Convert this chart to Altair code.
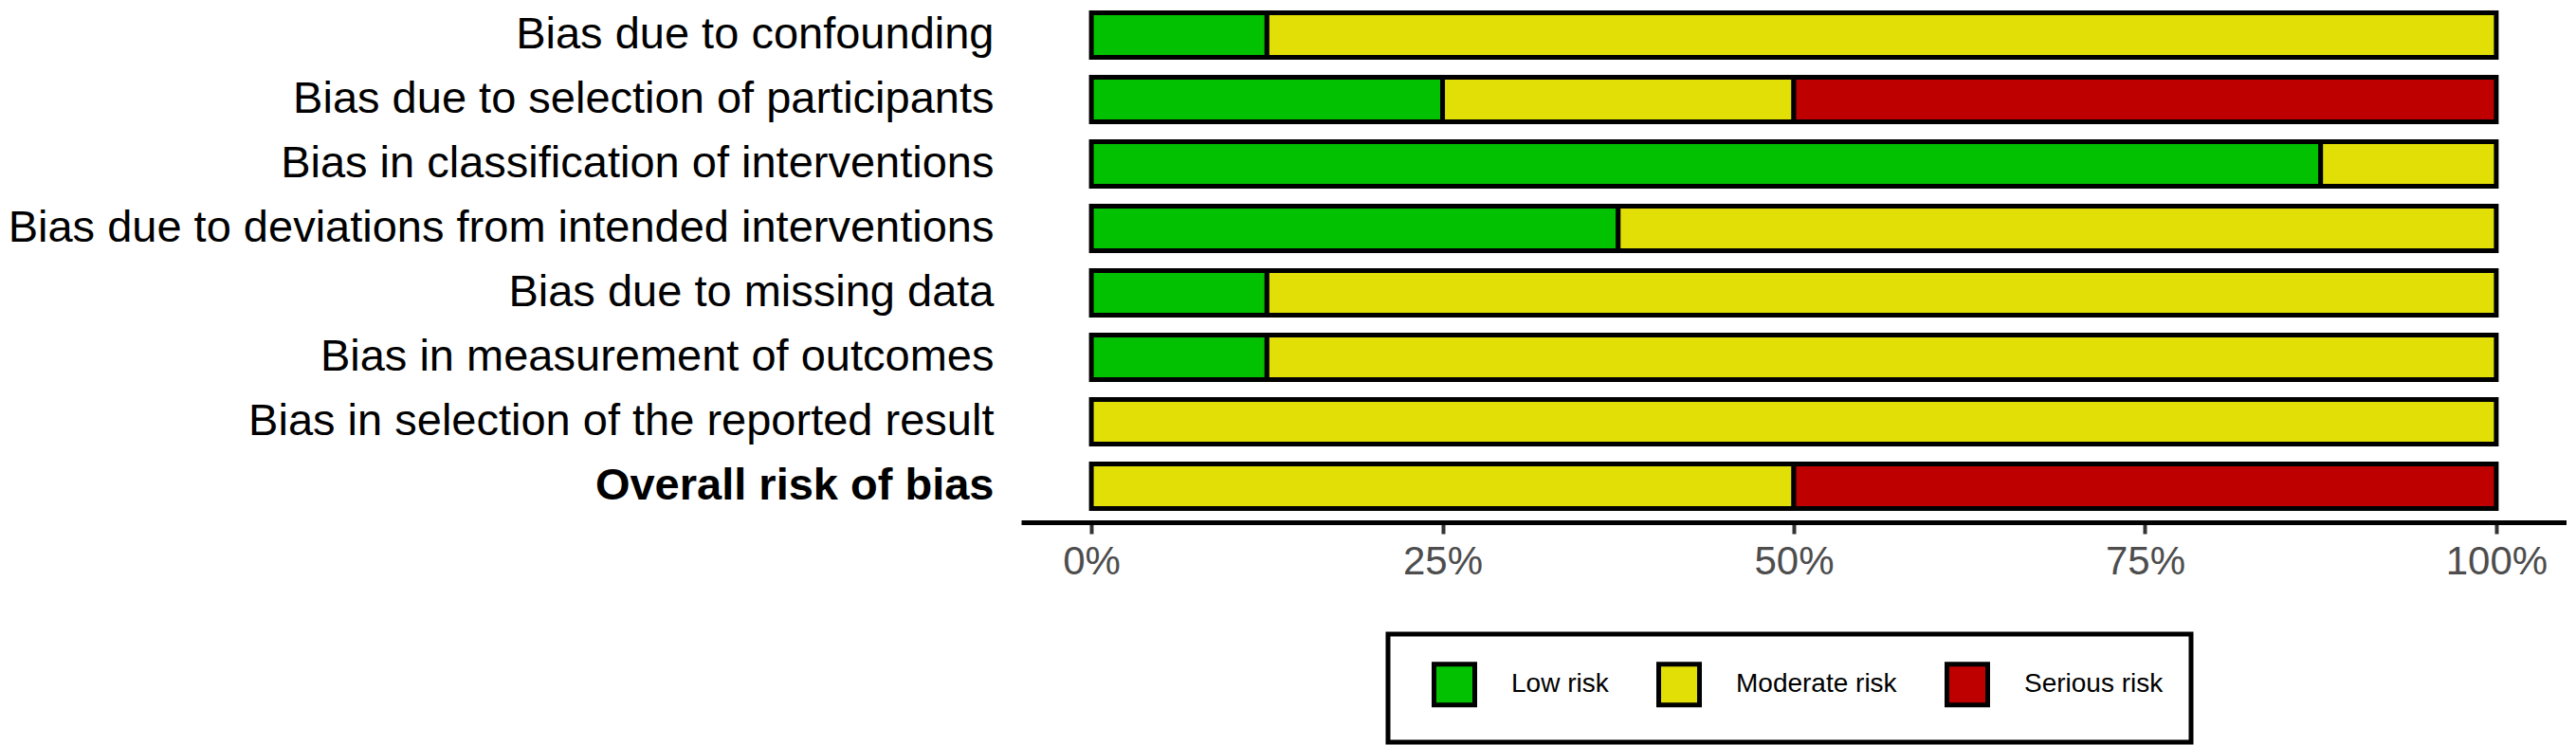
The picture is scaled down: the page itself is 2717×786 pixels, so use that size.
import altair as alt
import pandas as pd

domains = [
    "Bias due to confounding",
    "Bias due to selection of participants",
    "Bias in classification of interventions",
    "Bias due to deviations from intended interventions",
    "Bias due to missing data",
    "Bias in measurement of outcomes",
    "Bias in selection of the reported result",
    "Overall risk of bias",
]
judgements = ["Low risk", "Moderate risk", "Serious risk"]
colors = ["#02C100", "#E2DF07", "#BF0000"]
n_studies = 8
low = [1, 2, 7, 3, 1, 1, 0, 0]
moderate = [7, 2, 1, 5, 7, 7, 8, 4]
serious = [0, 4, 0, 0, 0, 0, 0, 4]
tick_values = [0, 0.25, 0.5, 0.75, 1]

rows = []
for i, d in enumerate(domains):
    for j, counts in enumerate([low, moderate, serious]):
        if counts[i] > 0:
            rows.append({"domain": d, "judgement": judgements[j], "ord": j,
                         "frac": counts[i] / n_studies})
df = pd.DataFrame(rows)

FONT = "Liberation Sans"

chart = alt.Chart(df).mark_bar(stroke="black", strokeWidth=5, strokeJoin="miter").encode(
    x=alt.X("frac:Q", stack="zero",
            scale=alt.Scale(domain=[-0.05, 1.05], nice=False, zero=False),
            axis=alt.Axis(values=tick_values, format=".0%", title=None, grid=False,
                          domainColor="black", domainWidth=5, tickColor="#333333",
                          tickWidth=4, tickSize=12, labelFontSize=42, labelFont=FONT,
                          labelColor="#4D4D4D", labelPadding=9, offset=9)),
    y=alt.Y("domain:N", sort=domains,
            scale=alt.Scale(paddingInner=0.309, paddingOuter=0.081),
            axis=alt.Axis(title=None, domain=False, ticks=False, labelPadding=29,
                          labelFontSize=47, labelFont=FONT, labelColor="black",
                          labelLimit=1500,
                          labelFontWeight={"condition": {"test": "datum.value == 'Overall risk of bias'", "value": "bold"}, "value": "normal"})),
    color=alt.Color("judgement:N",
                    scale=alt.Scale(domain=judgements, range=colors),
                    legend=alt.Legend(title=" ", titleOrient="left", titlePadding=17,
                                      titleFontSize=28, titleFont=FONT,
                                      orient="none", direction="horizontal",
                                      legendX=387, legendY=661,
                                      symbolType="square", symbolSize=1849,
                                      symbolStrokeColor="black", symbolStrokeWidth=5,
                                      labelFontSize=28, labelFont=FONT, labelColor="black",
                                      labelLimit=400,
                                      labelOffset=36, columnPadding=42, padding=29,
                                      strokeColor="black", fillColor="white")),
    order=alt.Order("ord:Q", sort="ascending"),
).properties(
    width=1630, height=534, padding=0
).configure_view(stroke=None).configure_legend(strokeWidth=5)

chart.save("out.html", embed_options={"renderer": "svg", "actions": False})
